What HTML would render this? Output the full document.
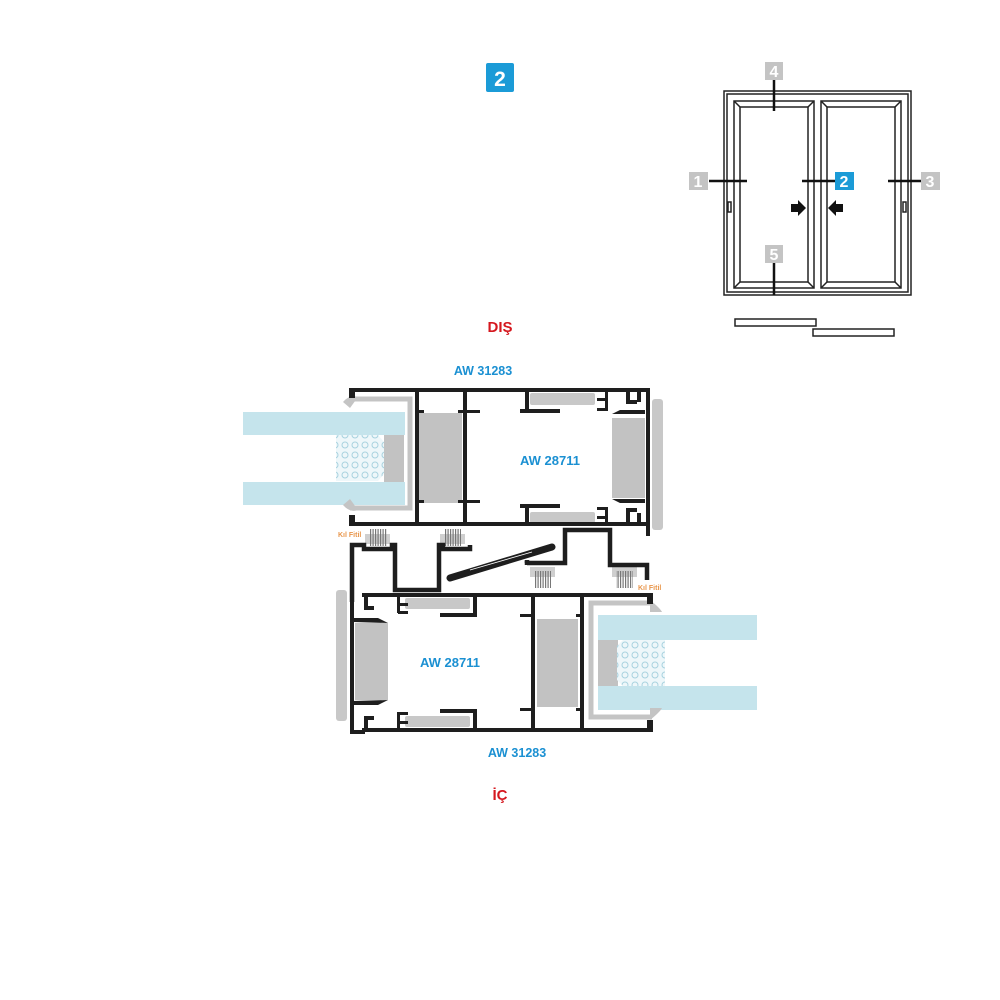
<!DOCTYPE html>
<html><head><meta charset="utf-8"><style>
html,body{margin:0;padding:0;background:#fff;}
svg{display:block;}
text{font-family:"Liberation Sans",sans-serif;font-weight:bold;}
</style></head><body>
<svg width="1000" height="1000" viewBox="0 0 1000 1000" xmlns="http://www.w3.org/2000/svg">
<rect width="1000" height="1000" fill="#fff"/>
<!-- title box -->
<rect x="486" y="63" width="28" height="29" rx="2" fill="#1b9bd7"/>
<text x="500" y="86" font-size="21" fill="#fff" text-anchor="middle" font-weight="normal">2</text>

<!-- small window -->
<g fill="none" stroke="#222" stroke-width="1.5">
<rect x="724" y="91" width="187" height="204"/>
<rect x="727" y="94" width="181" height="198"/>
<rect x="734" y="101" width="80" height="187"/>
<rect x="740" y="107" width="68" height="175"/>
<rect x="821" y="101" width="80" height="187"/>
<rect x="827" y="107" width="68" height="175"/>
<line x1="734" y1="101" x2="740" y2="107"/><line x1="814" y1="101" x2="808" y2="107"/>
<line x1="734" y1="288" x2="740" y2="282"/><line x1="814" y1="288" x2="808" y2="282"/>
<line x1="821" y1="101" x2="827" y2="107"/><line x1="901" y1="101" x2="895" y2="107"/>
<line x1="821" y1="288" x2="827" y2="282"/><line x1="901" y1="288" x2="895" y2="282"/>
<rect x="728" y="202" width="3" height="10"/><rect x="903" y="202" width="3" height="10"/>
<rect x="735" y="319" width="81" height="7"/>
<rect x="813" y="329" width="81" height="7"/>
</g>
<g stroke="#111" stroke-width="2.5">
<line x1="709" y1="181" x2="747" y2="181"/>
<line x1="802" y1="181" x2="835" y2="181"/>
<line x1="888" y1="181" x2="921" y2="181"/>
<line x1="774" y1="80" x2="774" y2="111"/>
<line x1="774" y1="263" x2="774" y2="295"/>
</g>
<polygon points="791,204 798,204 798,200 806,208 798,216 798,212 791,212" fill="#111"/>
<polygon points="843,204 836,204 836,200 828,208 836,216 836,212 843,212" fill="#111"/>
<g font-size="16" font-weight="normal" text-anchor="middle" fill="#fff">
<rect x="765" y="62" width="18" height="18" fill="#c4c4c4"/><text x="774" y="77">4</text>
<rect x="689" y="172" width="19" height="18" fill="#c4c4c4"/><text x="698" y="187">1</text>
<rect x="835" y="172" width="19" height="18" fill="#1b9bd7"/><text x="844" y="187">2</text>
<rect x="921" y="172" width="19" height="18" fill="#c4c4c4"/><text x="930" y="187">3</text>
<rect x="765" y="245" width="18" height="18" fill="#c4c4c4"/><text x="774" y="260">5</text>
</g>

<!-- labels -->
<text x="500" y="332" font-size="15" fill="#d5181f" text-anchor="middle">DIŞ</text>
<text x="483" y="375" font-size="12.5" fill="#1b90d2" text-anchor="middle">AW 31283</text>
<text x="550" y="465" font-size="13" fill="#1b90d2" text-anchor="middle">AW 28711</text>
<text x="450" y="667" font-size="13" fill="#1b90d2" text-anchor="middle">AW 28711</text>
<text x="517" y="757" font-size="12.5" fill="#1b90d2" text-anchor="middle">AW 31283</text>
<text x="500" y="800" font-size="15" fill="#d5181f" text-anchor="middle">İÇ</text>
<text x="338" y="537" font-size="7" fill="#e8954a" font-weight="normal">Kıl Fitil</text>
<text x="638" y="590" font-size="7" fill="#e8954a" font-weight="normal">Kıl Fitil</text>

<defs>
<pattern id="dots" width="10" height="10" patternUnits="userSpaceOnUse">
<rect width="10" height="10" fill="#eef7fa"/>
<circle cx="5" cy="5" r="3" fill="none" stroke="#a8d2df" stroke-width="1"/>
</pattern>
<pattern id="brush" width="2.5" height="10" patternUnits="userSpaceOnUse">
<rect width="1.2" height="10" fill="#777"/>
</pattern>
</defs>

<!-- TOP SASH -->
<!-- glass -->
<rect x="243" y="412" width="162" height="23" fill="#c5e4ec"/>
<rect x="243" y="482" width="162" height="23" fill="#c5e4ec"/>
<rect x="384" y="435" width="20" height="47" fill="#c2c2c2"/>
<polygon points="336,435 378,435 384,442 384,474 378,481 336,481" fill="url(#dots)"/>
<!-- grey retainer -->
<path d="M350,399 L410,399 L410,508 L350,508" fill="none" stroke="#c4c4c4" stroke-width="5"/>
<path d="M343,402 Q350,394 358,397 L350,408 Z" fill="#c4c4c4"/>
<path d="M343,505 Q350,513 358,510 L350,499 Z" fill="#c4c4c4"/>
<!-- grey blocks -->
<rect x="419" y="413" width="43" height="90" fill="#c2c2c2"/>
<rect x="612" y="418" width="33" height="80" fill="#c2c2c2"/>
<rect x="530" y="393" width="65" height="12" rx="2" fill="#c8c8c8"/>
<rect x="530" y="512" width="65" height="11" rx="2" fill="#c8c8c8"/>
<rect x="652" y="399" width="11" height="131" rx="3" fill="#c8c8c8"/>
<!-- black -->
<g fill="#1e1e1e">
<rect x="349" y="388" width="301" height="4"/>
<rect x="349" y="388" width="6" height="10"/>
<rect x="349" y="522" width="301" height="4"/>
<rect x="349" y="515" width="6" height="11"/>
<rect x="415" y="390" width="4" height="134"/>
<rect x="463" y="390" width="4" height="134"/>
<rect x="417" y="410" width="7" height="3"/><rect x="458" y="410" width="22" height="3"/>
<rect x="417" y="500" width="7" height="3"/><rect x="458" y="500" width="22" height="3"/>
<rect x="525" y="390" width="4" height="21"/><rect x="520" y="409" width="40" height="4"/>
<rect x="525" y="504" width="4" height="20"/><rect x="520" y="504" width="40" height="4"/>
<rect x="597" y="398" width="10" height="3"/><rect x="605" y="390" width="3" height="20"/><rect x="597" y="408" width="11" height="3"/>
<rect x="597" y="507" width="10" height="3"/><rect x="605" y="507" width="3" height="17"/><rect x="597" y="516" width="11" height="3"/>
<path d="M626,392 L630,392 L630,400 L637,400 L637,404 L626,404 Z"/>
<path d="M626,508 L637,508 L637,512 L630,512 L630,522 L626,522 Z"/>
<path d="M612,414 L620,410 L645,410 L645,414 Z"/>
<path d="M612,499 L620,503 L645,503 L645,499 Z"/>
<rect x="637" y="388" width="4" height="14"/>
<rect x="646" y="390" width="4" height="146"/>
<rect x="637" y="513" width="4" height="12"/>
</g>

<!-- MIDDLE FRAME -->
<g fill="#cfcfcf"><rect x="365" y="534" width="25" height="10"/><rect x="440" y="534" width="25" height="10"/>
<rect x="530" y="567" width="25" height="10"/><rect x="612" y="567" width="25" height="10"/></g>
<rect x="370" y="529" width="17" height="17" fill="url(#brush)"/>
<rect x="444" y="529" width="17" height="17" fill="url(#brush)"/>
<rect x="534" y="571" width="17" height="17" fill="url(#brush)"/>
<rect x="616" y="571" width="17" height="17" fill="url(#brush)"/>
<g fill="none" stroke="#1e1e1e" stroke-width="4.5">
<path d="M352,602 L352,545 L364,545 L364,549 L392,549 L392,545 L395,545 L395,590 L439,590 L439,545 L443,545 L443,549 L470,549 L470,545"/>
<path d="M527,565 L527,563 L565,563 L565,530 L610,530 L610,565 L647,565 L647,580"/>
<path d="M527,563 L527,560"/>
</g>
<line x1="450" y1="578" x2="552" y2="547" stroke="#1e1e1e" stroke-width="7" stroke-linecap="round"/>
<line x1="470" y1="570" x2="532" y2="552" stroke="#fff" stroke-width="0.8"/>
<rect x="355" y="552" width="36" height="36" fill="#fff"/>

<!-- BOTTOM SASH -->
<rect x="598" y="615" width="159" height="25" fill="#c5e4ec"/>
<rect x="598" y="686" width="159" height="24" fill="#c5e4ec"/>
<rect x="598" y="640" width="20" height="46" fill="#c2c2c2"/>
<polygon points="623,640 665,640 665,686 623,686 617,680 617,646" fill="url(#dots)"/>
<path d="M652,603 L591,603 L591,717 L652,717" fill="none" stroke="#c4c4c4" stroke-width="5"/>
<path d="M650,600 Q660,608 662,612 L650,612 Z" fill="#c4c4c4"/>
<path d="M650,720 Q660,712 662,708 L650,708 Z" fill="#c4c4c4"/>
<rect x="355" y="623" width="33" height="77" fill="#c2c2c2"/>
<rect x="537" y="619" width="41" height="88" fill="#c2c2c2"/>
<rect x="405" y="598" width="65" height="11" rx="2" fill="#c8c8c8"/>
<rect x="405" y="716" width="65" height="11" rx="2" fill="#c8c8c8"/>
<rect x="336" y="590" width="11" height="131" rx="3" fill="#c8c8c8"/>
<g fill="#1e1e1e">
<rect x="362" y="593" width="291" height="4"/>
<rect x="362" y="728" width="291" height="4"/>
<rect x="350" y="594" width="4" height="140"/>
<rect x="350" y="730" width="15" height="4"/>
<rect x="647" y="593" width="6" height="11"/>
<rect x="647" y="720" width="6" height="12"/>
<rect x="531" y="595" width="4" height="135"/>
<rect x="580" y="595" width="4" height="135"/>
<rect x="520" y="614" width="15" height="3"/><rect x="576" y="614" width="8" height="3"/>
<rect x="520" y="708" width="15" height="3"/><rect x="576" y="708" width="8" height="3"/>
<rect x="473" y="595" width="4" height="21"/><rect x="440" y="613" width="37" height="4"/>
<rect x="473" y="710" width="4" height="20"/><rect x="440" y="709" width="37" height="4"/>
<rect x="398" y="603" width="10" height="3"/><rect x="397" y="595" width="3" height="18"/><rect x="398" y="611" width="10" height="3"/>
<rect x="398" y="712" width="10" height="3"/><rect x="397" y="712" width="3" height="17"/><rect x="398" y="721" width="10" height="3"/>
<path d="M364,597 L368,597 L368,606 L374,606 L374,610 L364,610 Z"/>
<path d="M364,716 L374,716 L374,720 L368,720 L368,728 L364,728 Z"/>
<path d="M353,618 L378,618 L388,623 L353,622 Z"/>
<path d="M353,705 L378,705 L388,700 L353,701 Z"/>
</g>
</svg>
</body></html>
